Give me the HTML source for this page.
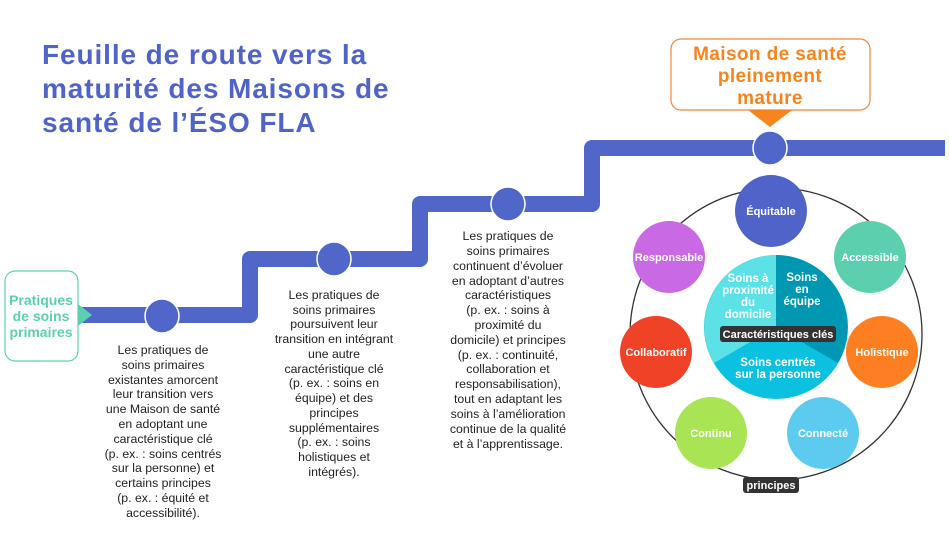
<!DOCTYPE html>
<html><head><meta charset="utf-8"><style>
html,body{margin:0;padding:0;background:#fff;}
svg{display:block;}
.t{font-family:"Liberation Sans",Arial,sans-serif;font-size:12.3px;fill:#222;text-anchor:middle;}
.b{font-family:"Liberation Sans",Arial,sans-serif;font-weight:bold;text-anchor:middle;}
</style></head><body>
<svg width="950" height="534" viewBox="0 0 950 534" xmlns="http://www.w3.org/2000/svg">
<g class="b" style="text-anchor:start;font-size:28px;fill:#4f63c9;letter-spacing:0.9px">
<text x="42" y="64">Feuille de route vers la</text>
<text x="42" y="98">maturité des Maisons de</text>
<text x="42" y="132">santé de l’ÉSO FLA</text>
</g>
<!-- orange box -->
<rect x="671" y="39" width="199" height="71" rx="10" fill="#fff" stroke="#f7843b" stroke-width="1.2"/>
<polygon points="748,110 792,110 770,127" fill="#f7841f"/>
<g class="b" style="font-size:19px;fill:#f7841f;letter-spacing:0.4px">
<text x="770" y="60">Maison de santé</text>
<text x="770" y="82">pleinement</text>
<text x="770" y="104">mature</text>
</g>
<!-- stair path -->
<path d="M76 315 H250 V259 H420 V204 H592 V148 H945" fill="none" stroke="#5067c9" stroke-width="16" stroke-linejoin="round"/>
<g fill="#5067c9" stroke="#fff" stroke-width="1.5">
<circle cx="162" cy="316" r="17"/>
<circle cx="334" cy="259" r="17"/>
<circle cx="508" cy="204" r="17"/>
<circle cx="770" cy="148" r="17"/>
</g>
<!-- start box -->
<rect x="5" y="271" width="73" height="90" rx="10" fill="#fff" stroke="#5fd0b2" stroke-width="1.2"/>
<polygon points="78,304 78,326 92,315" fill="#5ccfaf"/>
<g class="b" style="font-size:14px;fill:#5ccfaf">
<text x="41" y="305">Pratiques</text>
<text x="41" y="321">de soins</text>
<text x="41" y="337">primaires</text>
</g>
<!-- col texts -->
<g class="t">
<text x="163" y="354">Les pratiques de</text>
<text x="163" y="369">soins primaires</text>
<text x="163" y="384">existantes amorcent</text>
<text x="163" y="398">leur transition vers</text>
<text x="163" y="413">une Maison de santé</text>
<text x="163" y="428">en adoptant une</text>
<text x="163" y="443">caractéristique clé</text>
<text x="163" y="458">(p. ex. : soins centrés</text>
<text x="163" y="472">sur la personne) et</text>
<text x="163" y="487">certains principes</text>
<text x="163" y="502">(p. ex. : équité et</text>
<text x="163" y="517">accessibilité).</text>
</g>
<g class="t">
<text x="334" y="299">Les pratiques de</text>
<text x="334" y="314">soins primaires</text>
<text x="334" y="328">poursuivent leur</text>
<text x="334" y="343">transition en intégrant</text>
<text x="334" y="358">une autre</text>
<text x="334" y="373">caractéristique clé</text>
<text x="334" y="387">(p. ex. : soins en</text>
<text x="334" y="402">équipe) et des</text>
<text x="334" y="417">principes</text>
<text x="334" y="432">supplémentaires</text>
<text x="334" y="446">(p. ex. : soins</text>
<text x="334" y="461">holistiques et</text>
<text x="334" y="476">intégrés).</text>
</g>
<g class="t">
<text x="508" y="240">Les pratiques de</text>
<text x="508" y="255">soins primaires</text>
<text x="508" y="270">continuent d’évoluer</text>
<text x="508" y="285">en adoptant d’autres</text>
<text x="508" y="299">caractéristiques</text>
<text x="508" y="314">(p. ex. : soins à</text>
<text x="508" y="329">proximité du</text>
<text x="508" y="344">domicile) et principes</text>
<text x="508" y="359">(p. ex. : continuité,</text>
<text x="508" y="373">collaboration et</text>
<text x="508" y="388">responsabilisation),</text>
<text x="508" y="403">tout en adaptant les</text>
<text x="508" y="418">soins à l’amélioration</text>
<text x="508" y="433">continue de la qualité</text>
<text x="508" y="448">et à l’apprentissage.</text>
</g>
<!-- ring -->
<circle cx="776" cy="334" r="146" fill="none" stroke="#333" stroke-width="1.3"/>
<!-- pie -->
<circle cx="776" cy="327" r="72" fill="#0cc0df"/>
<path d="M776 327 L776 255 A72 72 0 0 0 714 363 Z" fill="#5ce1e6"/>
<path d="M776 327 L776 255 A72 72 0 0 1 838 363 Z" fill="#0097b2"/>
<g class="b" style="font-size:11.5px;fill:#fff">
<text x="748" y="282">Soins à</text>
<text x="748" y="294">proximité</text>
<text x="748" y="306">du</text>
<text x="748" y="318">domicile</text>
<text x="802" y="281">Soins</text>
<text x="802" y="293">en</text>
<text x="802" y="305">équipe</text>
<text x="778" y="366">Soins centrés</text>
<text x="778" y="378">sur la personne</text>
</g>
<rect x="720" y="326" width="116" height="16" rx="3" fill="#333"/>
<text class="b" x="778" y="338" style="font-size:11px;fill:#fff">Caractéristiques clés</text>
<!-- principle circles -->
<g>
<circle cx="771" cy="211" r="36" fill="#4f63c9"/>
<circle cx="870" cy="257" r="36" fill="#5ccfaf"/>
<circle cx="882" cy="352" r="36" fill="#fd7f22"/>
<circle cx="823" cy="433" r="36" fill="#5dcbf0"/>
<circle cx="711" cy="433" r="36" fill="#a8e453"/>
<circle cx="656" cy="352" r="36" fill="#ef4227"/>
<circle cx="669" cy="257" r="36" fill="#c96ae4"/>
</g>
<g class="b" style="font-size:11px;fill:#fff">
<text x="771" y="215">Équitable</text>
<text x="870" y="261">Accessible</text>
<text x="882" y="356">Holistique</text>
<text x="823" y="437">Connecté</text>
<text x="711" y="437">Continu</text>
<text x="656" y="356">Collaboratif</text>
<text x="669" y="261">Responsable</text>
</g>
<rect x="743" y="477" width="56" height="16" rx="3" fill="#333"/>
<text class="b" x="771" y="489" style="font-size:11px;fill:#fff">principes</text>
</svg>
</body></html>
